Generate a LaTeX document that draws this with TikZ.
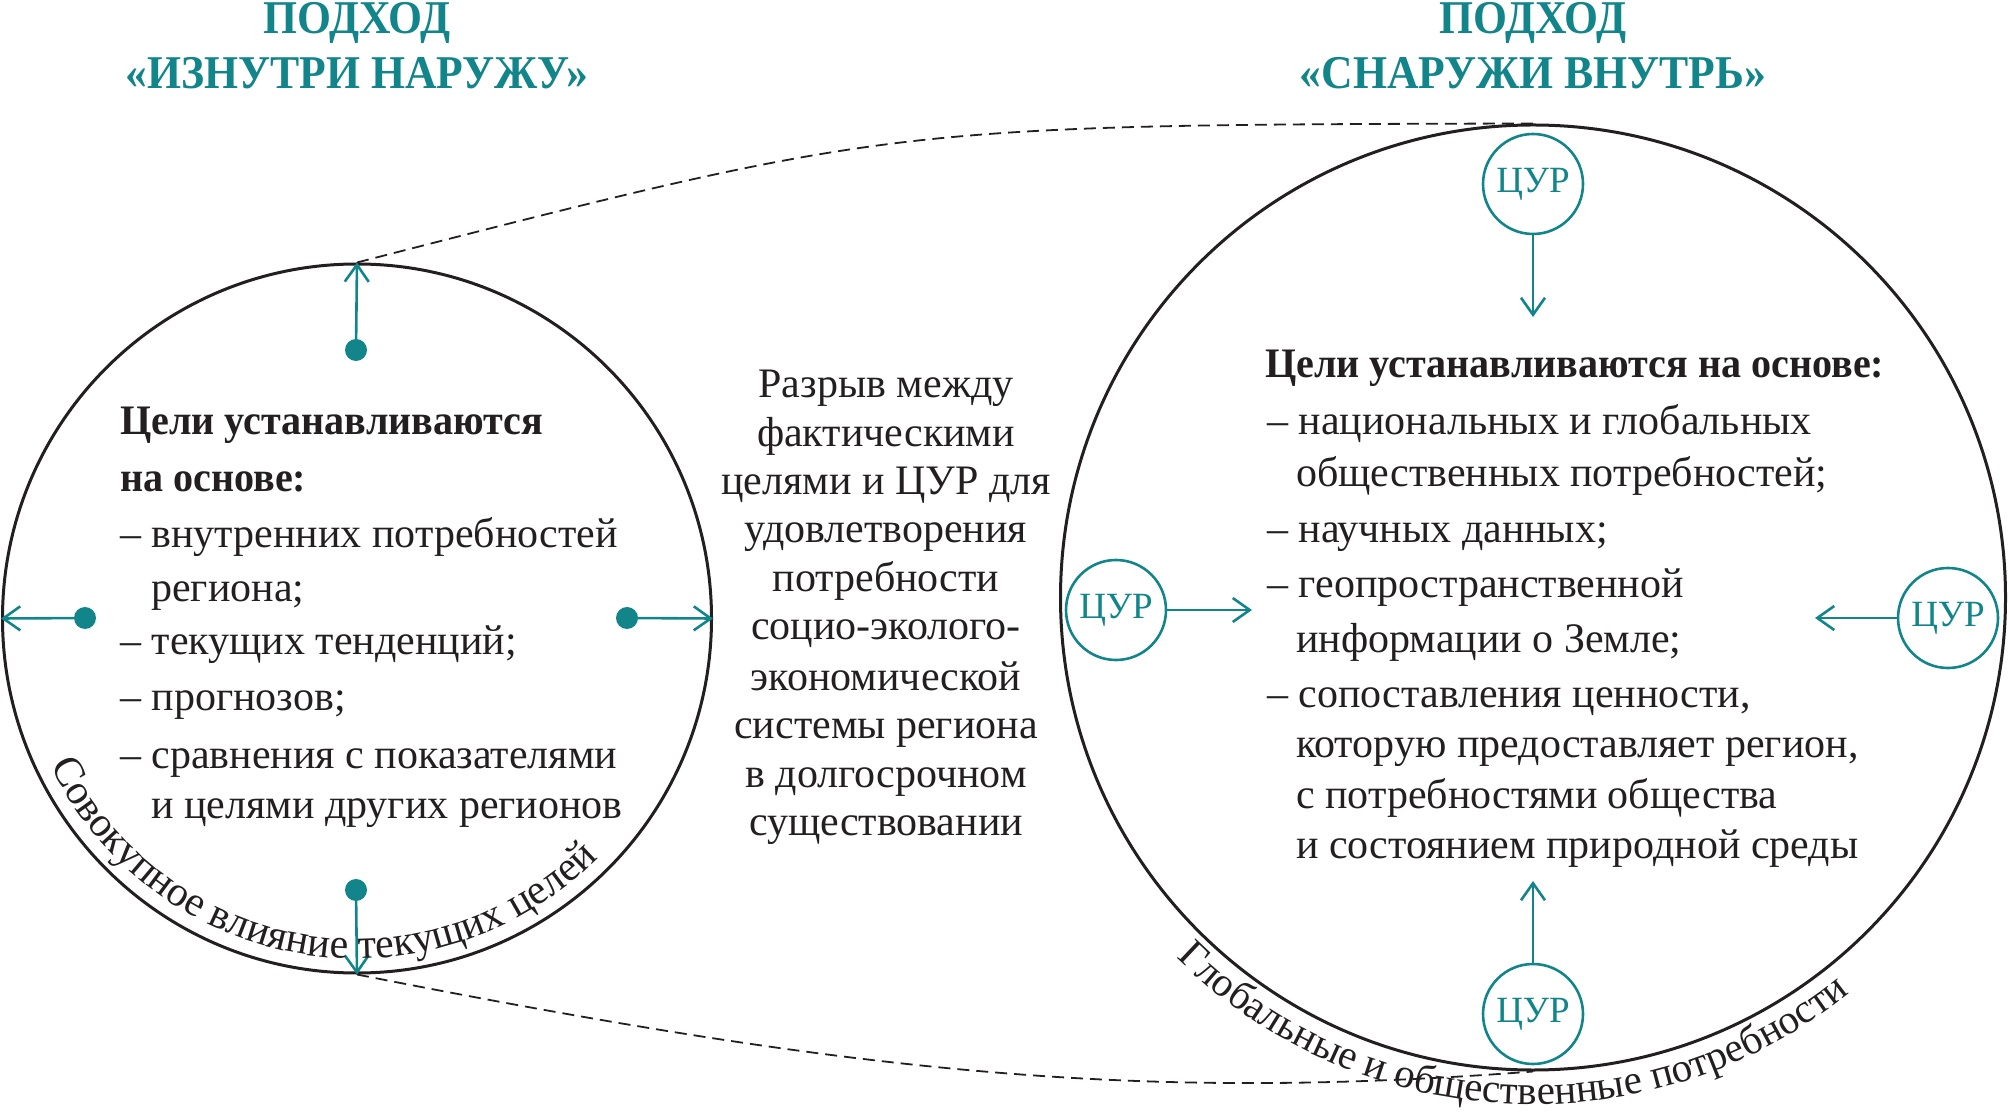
\documentclass[tikz,border=0pt]{standalone}
\usepackage{fontspec}
\setmainfont{Liberation Serif}
\newfontfamily\headfont[FakeStretch=0.93]{Liberation Serif}
\newfontfamily\boldfont[FakeStretch=0.955]{Liberation Serif}
\usetikzlibrary{arrows.meta,decorations.text}
\definecolor{teal1}{RGB}{18,133,139}
\definecolor{ink}{RGB}{35,31,32}
\begin{document}
\begin{tikzpicture}[x=1pt,y=1pt,
  bigcirc/.style={circle, draw=ink, line width=3pt, inner sep=0pt},
  sdg/.style={circle, draw=teal1, line width=2.6pt, minimum size=100pt, inner sep=0pt, text=teal1, font=\fontsize{37}{37}\selectfont},
  dotnode/.style={circle, fill=teal1, minimum size=22pt, inner sep=0pt},
  tarrow/.style={draw=teal1, line width=2.6pt, -{Straight Barb[length=17pt,width=24pt,line width=2.6pt]}},
  dashline/.style={draw=ink, line width=1.8pt, dash pattern=on 12pt off 7pt},
  headline/.style={anchor=base, inner sep=0pt, text height=32pt, text depth=6pt, text=teal1, font=\headfont\bfseries\fontsize{47}{47}\selectfont},
  bodyl/.style={anchor=base west, inner sep=0pt, text=ink, font=\fontsize{42}{42}\selectfont},
  boldl/.style={anchor=base west, inner sep=0pt, text=ink, font=\boldfont\bfseries\fontsize{42}{42}\selectfont},
  midl/.style={anchor=base, inner sep=0pt, text=ink, font=\fontsize{42}{42}\selectfont}
]
\useasboundingbox (0,0) rectangle (2009,1112);

% big circles
\node[bigcirc, minimum size=709pt] (L) at (357,493.5) {};
\node[bigcirc, minimum size=945pt] (R) at (1533,514.5) {};

% dashed connecting curves
\draw[dashline] (L.north) .. controls (892,987) .. (R.north);
\draw[dashline] (L.south) .. controls (857,39) and (1133,10) .. (R.south);

% headings
\node[headline] (hl1) at (357,1078) {ПОДХОД};
\node[headline] (hl2) at (357,1023) {«ИЗНУТРИ НАРУЖУ»};
\node[headline] (hr1) at (1533,1078) {ПОДХОД};
\node[headline] (hr2) at (1533,1023) {«СНАРУЖИ ВНУТРЬ»};

% left circle dots and arrows
\node[dotnode] (dT) at (356,762) {};
\node[dotnode] (dB) at (356,222) {};
\node[dotnode] (dW) at (85,494) {};
\node[dotnode] (dE) at (627,494) {};
\draw[tarrow] (dT) -- (L.north);
\draw[tarrow] (dB) -- (L.south);
\draw[tarrow] (dW) -- (L.west);
\draw[tarrow] (dE) -- (L.east);

% left circle text
\node[boldl] (l1) at (120,677) {Цели устанавливаются};
\node[boldl] (l2) at (120,620) {на основе:};
\node[bodyl] (l3) at (120,564) {– внутренних потребностей};
\node[bodyl] (l4) at (151,510) {региона;};
\node[bodyl] (l5) at (120,457) {– текущих тенденций;};
\node[bodyl] (l6) at (120,402) {– прогнозов;};
\node[bodyl] (l7) at (120,344) {– сравнения с показателями};
\node[bodyl] (l8) at (151,294) {и целями других регионов};

% middle text
\node[midl] (m1) at (886,714) {Разрыв между};
\node[midl] (m2) at (886,665) {фактическими};
\node[midl] (m3) at (886,617) {целями и ЦУР для};
\node[midl] (m4) at (886,569) {удовлетворения};
\node[midl] (m5) at (886,520) {потребности};
\node[midl] (m6) at (886,472) {социо-эколого-};
\node[midl] (m7) at (886,422) {экономической};
\node[midl] (m8) at (886,374) {системы региона};
\node[midl] (m9) at (886,325) {в долгосрочном};
\node[midl] (m10) at (886,277) {существовании};

% right circle SDG nodes
\node[sdg] (cT) at (1533,928) {ЦУР};
\node[sdg] (cW) at (1116,502) {ЦУР};
\node[sdg] (cE) at (1948,494) {ЦУР};
\node[sdg] (cB) at (1533,98) {ЦУР};
\coordinate (tT) at (1533,795);
\coordinate (tW) at (1252,502);
\coordinate (tE) at (1815,494);
\coordinate (tB) at (1533,231);
\draw[tarrow] (cT.south) -- (tT);
\draw[tarrow] (cW.east) -- (tW);
\draw[tarrow] (cE.west) -- (tE);
\draw[tarrow] (cB.north) -- (tB);

% right circle text
\node[boldl] (r1) at (1265,734) {Цели устанавливаются на основе:};
\node[bodyl] (r2) at (1267,677) {– национальных и глобальных};
\node[bodyl] (r3) at (1296,625) {общественных потребностей;};
\node[bodyl] (r4) at (1267,569) {– научных данных;};
\node[bodyl] (r5) at (1267,514) {– геопространственной};
\node[bodyl] (r6) at (1296,460) {информации о Земле;};
\node[bodyl] (r7) at (1267,405) {– сопоставления ценности,};
\node[bodyl] (r8) at (1296,355) {которую предоставляет регион,};
\node[bodyl] (r9) at (1296,304) {с потребностями общества};
\node[bodyl] (r10) at (1296,254) {и состоянием природной среды};

% curved labels
\path[decorate, decoration={text along path, text align=center, text color=ink,
  text={|\fontsize{42}{42}\selectfont|Совокупное влияние текущих целей}}]
  (L.center) ++(195.5:340) arc[start angle=195.5, end angle=325.5, radius=340];
\path[decorate, decoration={text along path, text align=center, text color=ink,
  text={|\fontsize{41}{41}\selectfont|Глобальные и общественные потребности}}]
  (R.center) ++(210:507) arc[start angle=210, end angle=324, radius=507];
\end{tikzpicture}
\end{document}
